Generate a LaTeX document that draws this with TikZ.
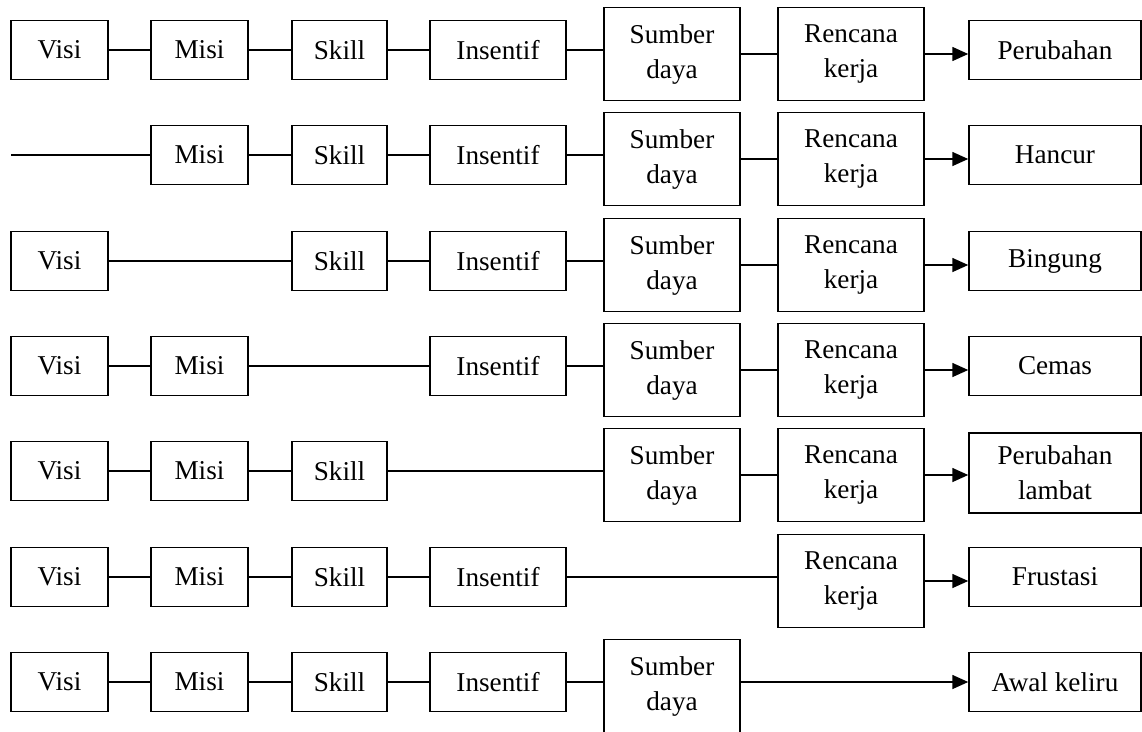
\documentclass[tikz,border=0pt]{standalone}
\usepackage{fontspec}
\setmainfont{Liberation Serif}
\usetikzlibrary{arrows.meta}
\tikzset{
  box/.style={draw, line width=1.5pt, inner sep=0pt, align=center, fill=white,
    font=\fontsize{27.2}{35}\selectfont},
  small/.style={box, minimum height=59pt},
  big/.style={box, minimum height=93pt, yshift=-4pt},
  wv/.style={small, minimum width=97pt},
  wm/.style={small, minimum width=97pt},
  ws/.style={small, minimum width=95pt},
  wi/.style={small, minimum width=136pt},
  wsd/.style={big, minimum width=136pt},
  wr/.style={big, minimum width=146pt},
  wo/.style={small, minimum width=172pt},
  conn/.style={line width=1.6pt},
  arr/.style={conn, -{Triangle[length=16pt,width=14pt]}},
}
\begin{document}
\begin{tikzpicture}[x=1pt,y=-1pt]
\useasboundingbox (0,0) rectangle (1142,731);
% Row 1
\node[wv] (v1) at (59.5,50) {Visi};
\node[wm] (m1) at (199.5,50) {Misi};
\node[ws] (s1) at (339.5,50) {Skill};
\node[wi] (i1) at (498,50) {Insentif};
\node[wsd] (d1) at (672,50) {Sumber\\daya};
\node[wr] (r1) at (851,50) {Rencana\\kerja};
\node[wo] (o1) at (1055,50) {Perubahan};
\draw[conn] (v1.east) -- (v1.east -| m1.west);
\draw[conn] (m1.east) -- (m1.east -| s1.west);
\draw[conn] (s1.east) -- (s1.east -| i1.west);
\draw[conn] (i1.east) -- (i1.east -| d1.west);
\draw[conn] (d1.east) -- (d1.east -| r1.west);
\draw[arr] (r1.east) -- (r1.east -| o1.west);
% Row 2
\coordinate (st2) at (11,155);
\node[wm] (m2) at (199.5,155) {Misi};
\node[ws] (s2) at (339.5,155) {Skill};
\node[wi] (i2) at (498,155) {Insentif};
\node[wsd] (d2) at (672,155) {Sumber\\daya};
\node[wr] (r2) at (851,155) {Rencana\\kerja};
\node[wo] (o2) at (1055,155) {Hancur};
\draw[conn] (st2) -- (st2 -| m2.west);
\draw[conn] (m2.east) -- (m2.east -| s2.west);
\draw[conn] (s2.east) -- (s2.east -| i2.west);
\draw[conn] (i2.east) -- (i2.east -| d2.west);
\draw[conn] (d2.east) -- (d2.east -| r2.west);
\draw[arr] (r2.east) -- (r2.east -| o2.west);
% Row 3
\node[wv] (v3) at (59.5,261) {Visi};
\node[ws] (s3) at (339.5,261) {Skill};
\node[wi] (i3) at (498,261) {Insentif};
\node[wsd] (d3) at (672,261) {Sumber\\daya};
\node[wr] (r3) at (851,261) {Rencana\\kerja};
\node[wo] (o3) at (1055,261) {Bingung};
\draw[conn] (v3.east) -- (v3.east -| s3.west);
\draw[conn] (s3.east) -- (s3.east -| i3.west);
\draw[conn] (i3.east) -- (i3.east -| d3.west);
\draw[conn] (d3.east) -- (d3.east -| r3.west);
\draw[arr] (r3.east) -- (r3.east -| o3.west);
% Row 4
\node[wv] (v4) at (59.5,366) {Visi};
\node[wm] (m4) at (199.5,366) {Misi};
\node[wi] (i4) at (498,366) {Insentif};
\node[wsd] (d4) at (672,366) {Sumber\\daya};
\node[wr] (r4) at (851,366) {Rencana\\kerja};
\node[wo] (o4) at (1055,366) {Cemas};
\draw[conn] (v4.east) -- (v4.east -| m4.west);
\draw[conn] (m4.east) -- (m4.east -| i4.west);
\draw[conn] (i4.east) -- (i4.east -| d4.west);
\draw[conn] (d4.east) -- (d4.east -| r4.west);
\draw[arr] (r4.east) -- (r4.east -| o4.west);
% Row 5
\node[wv] (v5) at (59.5,471) {Visi};
\node[wm] (m5) at (199.5,471) {Misi};
\node[ws] (s5) at (339.5,471) {Skill};
\node[wsd] (d5) at (672,471) {Sumber\\daya};
\node[wr] (r5) at (851,471) {Rencana\\kerja};
\node[wo, minimum height=80pt] (o5) at (1055,473) {Perubahan\\lambat};
\draw[conn] (v5.east) -- (v5.east -| m5.west);
\draw[conn] (m5.east) -- (m5.east -| s5.west);
\draw[conn] (s5.east) -- (s5.east -| d5.west);
\draw[conn] (d5.east) -- (d5.east -| r5.west);
\draw[arr] (r5.east) -- (r5.east -| o5.west);
% Row 6
\node[wv] (v6) at (59.5,577) {Visi};
\node[wm] (m6) at (199.5,577) {Misi};
\node[ws] (s6) at (339.5,577) {Skill};
\node[wi] (i6) at (498,577) {Insentif};
\node[wr] (r6) at (851,577) {Rencana\\kerja};
\node[wo] (o6) at (1055,577) {Frustasi};
\draw[conn] (v6.east) -- (v6.east -| m6.west);
\draw[conn] (m6.east) -- (m6.east -| s6.west);
\draw[conn] (s6.east) -- (s6.east -| i6.west);
\draw[conn] (i6.east) -- (i6.east -| r6.west);
\draw[arr] (r6.east) -- (r6.east -| o6.west);
% Row 7
\node[wv] (v7) at (59.5,682) {Visi};
\node[wm] (m7) at (199.5,682) {Misi};
\node[ws] (s7) at (339.5,682) {Skill};
\node[wi] (i7) at (498,682) {Insentif};
\node[wsd] (d7) at (672,682) {Sumber\\daya};
\node[wo] (o7) at (1055,682) {Awal keliru};
\draw[conn] (v7.east) -- (v7.east -| m7.west);
\draw[conn] (m7.east) -- (m7.east -| s7.west);
\draw[conn] (s7.east) -- (s7.east -| i7.west);
\draw[conn] (i7.east) -- (i7.east -| d7.west);
\draw[arr] (d7.east |- o7.west) -- (o7.west);
\end{tikzpicture}
\end{document}
